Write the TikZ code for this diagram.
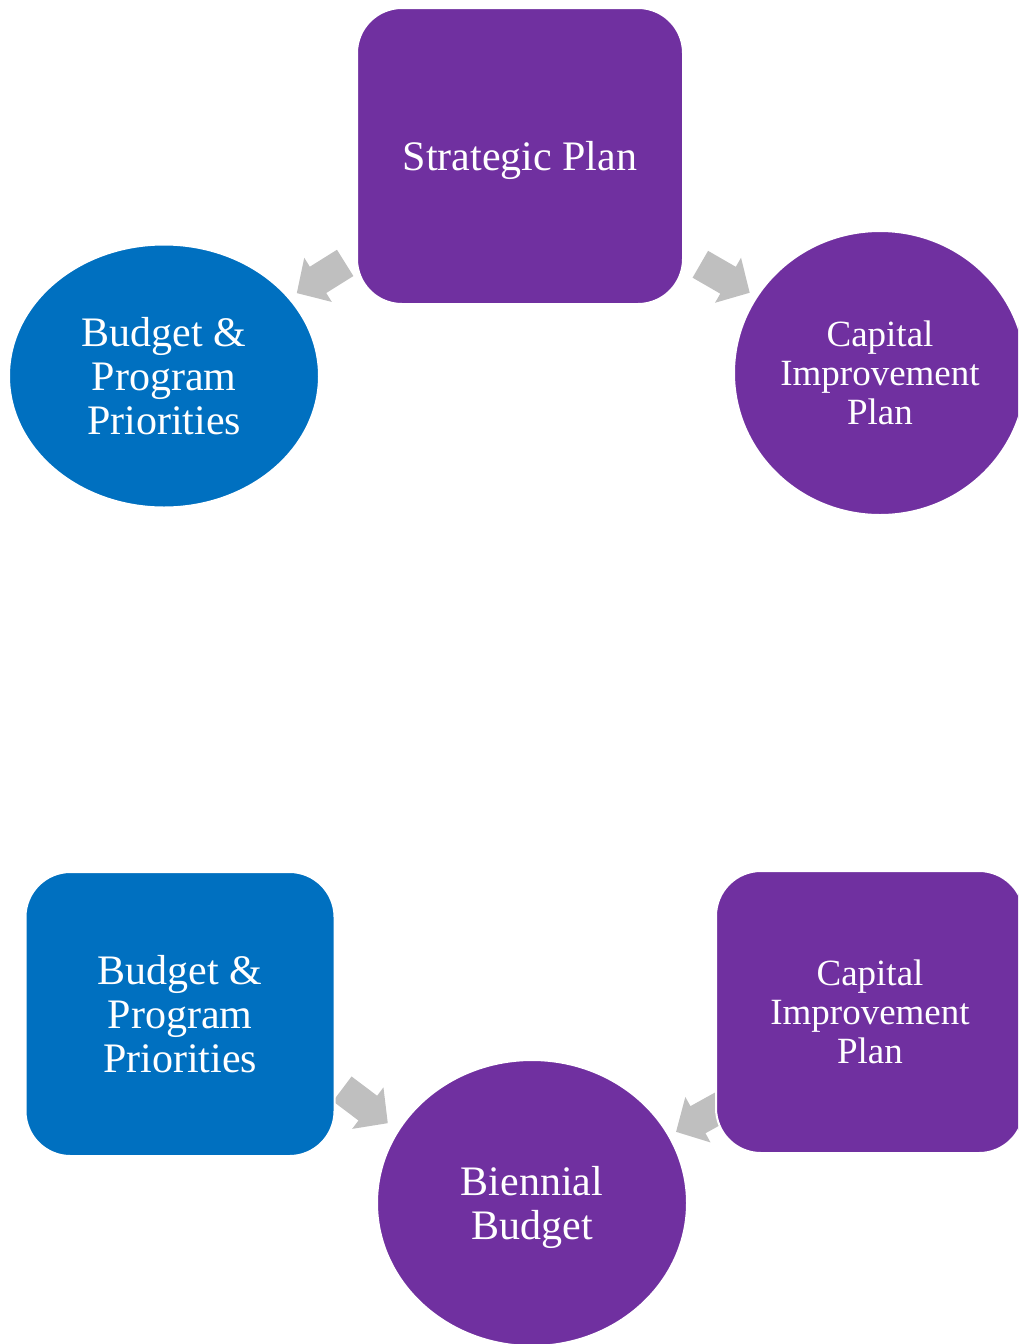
\documentclass[tikz,border=0pt]{standalone}
\usepackage{fontspec}
\setmainfont{Liberation Serif}
\usetikzlibrary{shapes.geometric}
\definecolor{purp}{HTML}{7030A0}
\definecolor{blu}{HTML}{0070C0}
\definecolor{agray}{HTML}{BFBFBF}
\begin{document}
\begin{tikzpicture}[x=1pt,y=-1pt,
  rbox/.style={rectangle, rounded corners=45pt, draw=white, line width=2pt, text=white, align=center, inner sep=0pt},
  ellnode/.style={ellipse, draw=white, line width=2pt, text=white, align=center, inner sep=0pt},
  bigfont/.style={font=\fontsize{42}{44}\selectfont},
  smallfont/.style={font=\fontsize{37}{39}\selectfont},
  blockarrow/.pic={\fill[agray] (-28.5,-15.5) -- (3.5,-15.5) -- (3.5,-26) -- (28.5,0) -- (3.5,26) -- (3.5,15.5) -- (-28.5,15.5) -- cycle;}
]
\useasboundingbox (0,0) rectangle (1018,1344);
\clip (0,0) rectangle (1018,1344);
% arrows (drawn first, partly hidden behind the shapes)
\pic[rotate=212] at (321,278) {blockarrow};
\pic[rotate=330] at (725,278.5) {blockarrow};
\pic[rotate=323] at (365,1106) {blockarrow};
\pic[rotate=209] at (701,1118) {blockarrow};
% shapes
\node[rbox, bigfont, fill=purp, minimum width=326, minimum height=296, text depth=0pt] (sp) at (520,156) {Strategic Plan};
\node[ellnode, bigfont, fill=blu, minimum width=310, minimum height=263] (bpp1) at (164,376) {Budget \&\\Program\\Priorities};
\node[ellnode, smallfont, fill=purp, minimum width=292, minimum height=284] (cip1) at (880,373) {Capital\\Improvement\\Plan};
\node[rbox, bigfont, fill=blu, minimum width=309, minimum height=284] (bpp2) at (180,1014) {Budget \&\\Program\\Priorities};
\node[rbox, smallfont, fill=purp, minimum width=308, minimum height=282] (cip2) at (870,1012) {Capital\\Improvement\\Plan};
\node[ellnode, bigfont, fill=purp, minimum width=310, minimum height=286, text depth=0pt] (bb) at (532,1203) {Biennial\\Budget};
\end{tikzpicture}
\end{document}
